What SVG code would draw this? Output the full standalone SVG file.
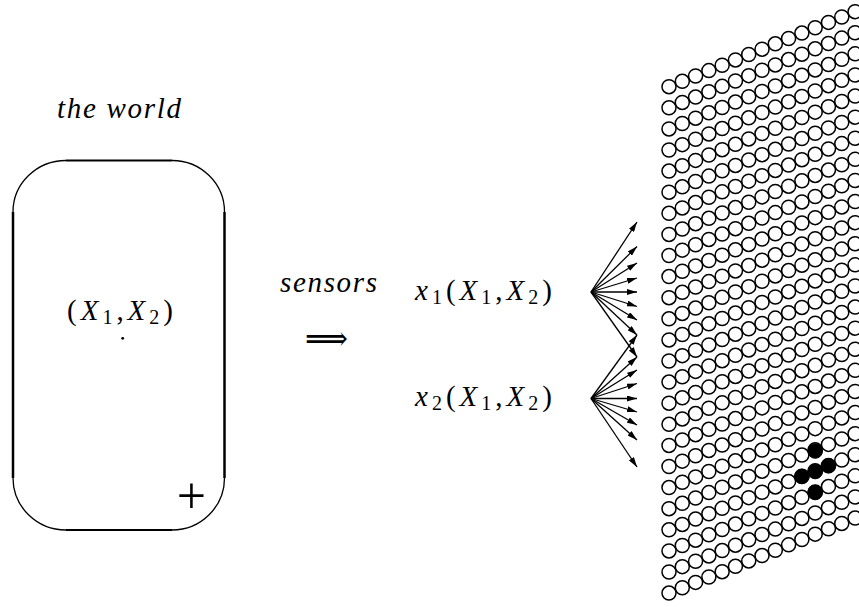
<svg xmlns="http://www.w3.org/2000/svg" xmlns:xlink="http://www.w3.org/1999/xlink" width="859" height="607" viewBox="0 0 859 607">
<style>
text{font-family:'Liberation Serif','Times New Roman','DejaVu Serif',serif;fill:#000}
.i{font-style:italic}
.c{fill:none;stroke:#000;stroke-width:1.5}
.f{fill:#000;stroke:#000;stroke-width:1}
.a{stroke:#000;stroke-width:1.3;fill:none;marker-end:url(#ah)}
.box{fill:none;stroke:#000}
</style>
<defs>
<marker id="ah" viewBox="0 0 10 6" refX="10" refY="3" markerWidth="10" markerHeight="6" markerUnits="userSpaceOnUse" orient="auto">
<path d="M0,0 L10,3 L0,6 z" fill="#000"/>
</marker>
<g id="col">
<circle class="c" cx="669" cy="86.7" r="7"/>
<circle class="c" cx="669" cy="107.8" r="7"/>
<circle class="c" cx="669" cy="128.9" r="7"/>
<circle class="c" cx="669" cy="150" r="7"/>
<circle class="c" cx="669" cy="171.1" r="7"/>
<circle class="c" cx="669" cy="192.2" r="7"/>
<circle class="c" cx="669" cy="213.3" r="7"/>
<circle class="c" cx="669" cy="234.4" r="7"/>
<circle class="c" cx="669" cy="255.5" r="7"/>
<circle class="c" cx="669" cy="276.6" r="7"/>
<circle class="c" cx="669" cy="297.7" r="7"/>
<circle class="c" cx="669" cy="318.8" r="7"/>
<circle class="c" cx="669" cy="339.9" r="7"/>
<circle class="c" cx="669" cy="361" r="7"/>
<circle class="c" cx="669" cy="382.1" r="7"/>
<circle class="c" cx="669" cy="403.2" r="7"/>
<circle class="c" cx="669" cy="424.3" r="7"/>
<circle class="c" cx="669" cy="445.4" r="7"/>
<circle class="c" cx="669" cy="466.5" r="7"/>
<circle class="c" cx="669" cy="487.6" r="7"/>
<circle class="c" cx="669" cy="508.7" r="7"/>
<circle class="c" cx="669" cy="529.8" r="7"/>
<circle class="c" cx="669" cy="550.9" r="7"/>
<circle class="c" cx="669" cy="572" r="7"/>
<circle class="c" cx="669" cy="593.1" r="7"/>
</g>
</defs>
<rect width="859" height="607" fill="#fff"/>

<g id="world">
<path class="box" stroke-width="2.5" d="M13,212 V478 M224.5,212 V478"/>
<path class="box" stroke-width="2" d="M66,160.5 H172 M66,530 H172"/>
<path class="box" stroke-width="1.3" d="M13,212 A53,51.5 0 0 1 66,160.5 M172,160.5 A52.5,51.5 0 0 1 224.5,212 M224.5,478 A52.5,52 0 0 1 172,530 M66,530 A53,52 0 0 1 13,478"/>
<text font-family="Liberation Serif, serif" x="67" y="320" font-size="29" textLength="106" lengthAdjust="spacing">(<tspan class="i">X</tspan><tspan font-size="20" dy="4">1</tspan><tspan dy="-4">,</tspan><tspan class="i">X</tspan><tspan font-size="20" dy="4">2</tspan><tspan dy="-4">)</tspan></text>
<circle cx="122.7" cy="338.3" r="1.4" fill="#000"/>
<text font-family="Liberation Serif, serif" x="191.5" y="513" font-size="52" text-anchor="middle">+</text>
</g>

<g id="label-world">
<text font-family="Liberation Serif, serif" class="i" x="57" y="118" font-size="29" textLength="124" lengthAdjust="spacing">the world</text>
</g>

<g id="sensors">
<text font-family="Liberation Serif, serif" class="i" x="280" y="292" font-size="29" textLength="97" lengthAdjust="spacing">sensors</text>
<text x="305" y="350" font-family="DejaVu Sans, sans-serif" font-size="34" textLength="43" lengthAdjust="spacingAndGlyphs">⟹</text>
</g>

<g id="x1">
<text font-family="Liberation Serif, serif" x="415" y="300" font-size="29" textLength="137" lengthAdjust="spacing"><tspan class="i">x</tspan><tspan font-size="20" dy="4">1</tspan><tspan dy="-4">(</tspan><tspan class="i">X</tspan><tspan font-size="20" dy="4">1</tspan><tspan dy="-4">,</tspan><tspan class="i">X</tspan><tspan font-size="20" dy="4">2</tspan><tspan dy="-4">)</tspan></text>
</g>

<g id="x2">
<text font-family="Liberation Serif, serif" x="415" y="406" font-size="29" textLength="137" lengthAdjust="spacing"><tspan class="i">x</tspan><tspan font-size="20" dy="4">2</tspan><tspan dy="-4">(</tspan><tspan class="i">X</tspan><tspan font-size="20" dy="4">1</tspan><tspan dy="-4">,</tspan><tspan class="i">X</tspan><tspan font-size="20" dy="4">2</tspan><tspan dy="-4">)</tspan></text>
</g>

<g id="connectors">
<line class="a" x1="591" y1="292" x2="637" y2="222"/>
<line class="a" x1="591" y1="292" x2="637" y2="246.5"/>
<line class="a" x1="591" y1="292" x2="637" y2="263"/>
<line class="a" x1="591" y1="292" x2="637" y2="278"/>
<line class="a" x1="591" y1="292" x2="637" y2="292"/>
<line class="a" x1="591" y1="292" x2="637" y2="306.5"/>
<line class="a" x1="591" y1="292" x2="637" y2="320"/>
<line class="a" x1="591" y1="292" x2="637" y2="335"/>
<line class="a" x1="591" y1="292" x2="637" y2="357"/>
<line class="a" x1="591" y1="398.5" x2="637" y2="335"/>
<line class="a" x1="591" y1="398.5" x2="637" y2="357"/>
<line class="a" x1="591" y1="398.5" x2="637" y2="370"/>
<line class="a" x1="591" y1="398.5" x2="637" y2="383.5"/>
<line class="a" x1="591" y1="398.5" x2="637" y2="398.5"/>
<line class="a" x1="591" y1="398.5" x2="637" y2="412"/>
<line class="a" x1="591" y1="398.5" x2="637" y2="425"/>
<line class="a" x1="591" y1="398.5" x2="637" y2="440"/>
<line class="a" x1="591" y1="398.5" x2="637" y2="467"/>
</g>

<g id="retina">
<use xlink:href="#col" href="#col"/>
<use xlink:href="#col" href="#col" transform="translate(13.29,-5.36)"/>
<use xlink:href="#col" href="#col" transform="translate(26.58,-10.72)"/>
<use xlink:href="#col" href="#col" transform="translate(39.87,-16.08)"/>
<use xlink:href="#col" href="#col" transform="translate(53.16,-21.44)"/>
<use xlink:href="#col" href="#col" transform="translate(66.45,-26.8)"/>
<use xlink:href="#col" href="#col" transform="translate(79.74,-32.16)"/>
<use xlink:href="#col" href="#col" transform="translate(93.03,-37.52)"/>
<use xlink:href="#col" href="#col" transform="translate(106.32,-42.88)"/>
<use xlink:href="#col" href="#col" transform="translate(119.61,-48.24)"/>
<use xlink:href="#col" href="#col" transform="translate(132.9,-53.6)"/>
<use xlink:href="#col" href="#col" transform="translate(146.19,-58.96)"/>
<use xlink:href="#col" href="#col" transform="translate(159.48,-64.32)"/>
<use xlink:href="#col" href="#col" transform="translate(172.77,-69.68)"/>
<use xlink:href="#col" href="#col" transform="translate(186.06,-75.04)"/>
<circle class="f" cx="801.9" cy="476.5" r="7.3"/>
<circle class="f" cx="815.2" cy="451" r="7.3"/>
<circle class="f" cx="815.2" cy="471.5" r="7.3"/>
<circle class="f" cx="815.2" cy="492.5" r="7.3"/>
<circle class="f" cx="828.5" cy="465.8" r="7.3"/>
</g>
</svg>
